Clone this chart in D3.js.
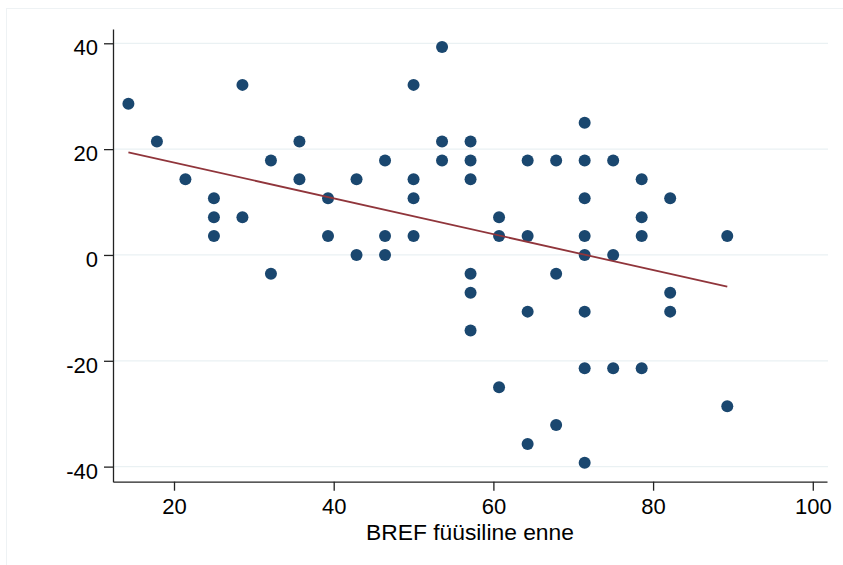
<!DOCTYPE html>
<html>
<head>
<meta charset="utf-8">
<script src="https://cdn.jsdelivr.net/npm/d3@7"></script>
<style>
    body { margin: 0; background: #fff; }
    svg { display: block; font-family: "Liberation Sans", Arial, sans-serif; }
</style>
</head>
<body>
<div id="chart"></div>
<script>
// the data: x = BREF before, y = change
const xVals = [14.29, 17.86, 21.43, 25, 25, 25, 28.57, 28.57, 32.14, 32.14,
    35.71, 35.71, 39.29, 39.29, 42.86, 42.86, 46.43, 46.43, 46.43,
    50, 50, 50, 50, 53.57, 53.57, 53.57,
    57.14, 57.14, 57.14, 57.14, 57.14, 57.14, 60.71, 60.71, 60.71,
    64.29, 64.29, 64.29, 64.29, 67.86, 67.86, 67.86,
    71.43, 71.43, 71.43, 71.43, 71.43, 71.43, 71.43, 71.43,
    75, 75, 75, 78.57, 78.57, 78.57, 78.57, 82.14, 82.14, 82.14, 89.29, 89.29]
const yVals = [28.57, 21.43, 14.29, 10.71, 7.14, 3.57, 32.14, 7.14, 17.86, -3.57,
    21.43, 14.29, 10.71, 3.57, 14.29, 0, 17.86, 3.57, 0,
    32.14, 14.29, 10.71, 3.57, 39.29, 21.43, 17.86,
    21.43, 17.86, 14.29, -3.57, -7.14, -14.29, 7.14, 3.57, -25,
    17.86, 3.57, -10.71, -35.71, 17.86, -3.57, -32.14,
    25, 17.86, 10.71, 3.57, 0, -10.71, -21.43, -39.29,
    17.86, 0, -21.43, 14.29, 7.14, 3.57, -21.43, 10.71, -7.14, -10.71, 3.57, -28.57]

// fitted line end points
const fitX = [14.29, 89.29]
const fitY = [19.4, -6.0]

const xTicks = [20, 40, 60, 80, 100]
const yTicks = [-40, -20, 0, 20, 40]
const xTitle = 'BREF füüsiline enne'

// dimensions
const w = 843
const h = 565
const pLeft = 113
const pRight = 827
const pTop = 29
const pBottom = 481.7

const svg = d3.select('#chart')
    .append('svg')
    .attr('width', w)
    .attr('height', h)

// light outer frame
svg.append('rect')
    .attr('x', 6.5)
    .attr('y', 8.5)
    .attr('width', w)
    .attr('height', h)
    .attr('fill', 'none')
    .attr('stroke', '#eef2f4')
    .attr('stroke-width', 1)

const x = d3.scaleLinear()
    .domain([12.36, 101.78])
    .range([pLeft, pRight])

const y = d3.scaleLinear()
    .domain([-42.85, 42.7])
    .range([pBottom, pTop])

// gridlines
svg.append('g')
    .selectAll('line')
    .data(yTicks)
    .enter()
    .append('line')
    .attr('x1', pLeft)
    .attr('x2', pRight + 1)
    .attr('y1', d => y(d))
    .attr('y2', d => y(d))
    .attr('stroke', '#eaf1f3')
    .attr('stroke-width', 1.3)

// y axis (plain hyphen for negatives)
const yAxis = d3.axisLeft(y)
    .tickValues(yTicks)
    .tickFormat(d => String(d))
    .tickSize(9)
    .tickPadding(6)
    .tickSizeOuter(0)

const gy = svg.append('g')
    .attr('transform', `translate(${pLeft},0)`)
    .call(yAxis)
gy.select('.domain').attr('stroke', '#222').attr('stroke-width', 1.3)
gy.selectAll('.tick line').attr('stroke', '#222').attr('stroke-width', 1.3)
gy.selectAll('.tick text')
    .attr('font-size', 22)
    .attr('fill', '#000')
    .attr('dy', '0.52em')

// x axis
const xAxis = d3.axisBottom(x)
    .tickValues(xTicks)
    .tickFormat(d => String(d))
    .tickSize(9)
    .tickPadding(8)
    .tickSizeOuter(0)

const gx = svg.append('g')
    .attr('transform', `translate(0,${pBottom})`)
    .call(xAxis)
gx.select('.domain').attr('stroke', '#222').attr('stroke-width', 1.3)
gx.selectAll('.tick line').attr('stroke', '#222').attr('stroke-width', 1.3)
gx.selectAll('.tick text')
    .attr('font-size', 22)
    .attr('fill', '#000')

// axis title
svg.append('text')
    .attr('x', (pLeft + pRight) / 2)
    .attr('y', 540)
    .attr('text-anchor', 'middle')
    .attr('font-size', 22.8)
    .attr('fill', '#000')
    .text(xTitle)

// points
svg.append('g')
    .selectAll('circle')
    .data(xVals.map((v, i) => [v, yVals[i]]))
    .enter()
    .append('circle')
    .attr('cx', d => x(d[0]))
    .attr('cy', d => y(d[1]))
    .attr('r', 6)
    .attr('fill', '#1a476f')

// fitted line
svg.append('path')
    .datum(fitX.map((v, i) => [v, fitY[i]]))
    .attr('d', d3.line().x(d => x(d[0])).y(d => y(d[1])))
    .attr('fill', 'none')
    .attr('stroke', '#90353b')
    .attr('stroke-width', 1.8)
</script>
</body>
</html>
